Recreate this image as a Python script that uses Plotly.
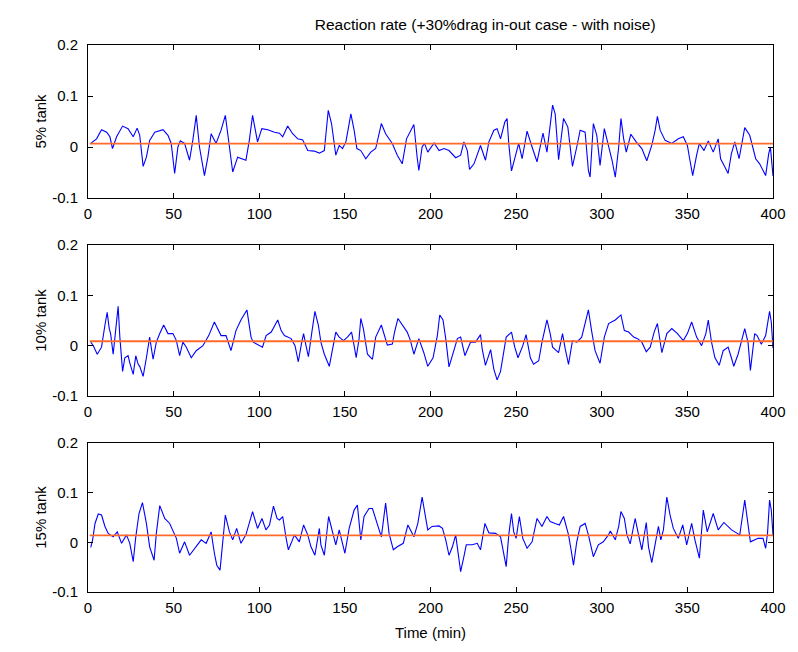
import plotly.graph_objects as go
from plotly.subplots import make_subplots

title_text = "Reaction rate (+30%drag in-out case - with noise)"
panel_labels = ["5% tank", "10% tank", "15% tank"]
x_ticks = [0, 50, 100, 150, 200, 250, 300, 350, 400]
y_ticks = [-0.1, 0, 0.1, 0.2]

# 5% tank
t5 = [1.6, 5.0, 7.9, 10.9, 12.8, 14.3, 16.7, 20.2, 23.4, 26.4, 28.7, 30.2, 32.2, 34.1, 36.0, 39.0,
      43.8, 46.7, 48.6, 50.6, 52.5, 53.9, 56.4, 59.3, 61.2, 63.2, 65.1, 68.0, 70.0, 71.9, 74.8, 77.7,
      80.2, 82.6, 84.5, 87.4, 92.2, 94.2, 96.1, 99.0, 101.5, 105.0, 108.9, 111.8, 113.7, 116.6, 119.5,
      122.5, 125.4, 128.3, 132.1, 135.1, 138.0, 140.3, 142.2, 144.7, 146.7, 148.6, 150.6, 153.5, 155.4,
      157.0, 159.3, 162.2, 165.1, 168.0, 171.3, 173.8, 177.7, 180.6, 183.5, 186.0, 190.3, 192.2, 193.2,
      195.1, 196.5, 198.4, 202.1, 205.0, 207.9, 210.8, 214.7, 217.6, 219.5, 221.5, 222.8, 225.4, 229.2,
      232.1, 234.1, 237.0, 238.9, 240.9, 243.4, 244.7, 245.7, 247.3, 249.6, 251.5, 253.5, 256.4, 259.3,
      262.2, 265.7, 268.0, 271.3, 272.8, 274.8, 277.7, 280.2, 282.9, 285.4, 287.4, 290.3, 292.2, 293.2,
      295.1, 297.1, 299.0, 301.5, 304.0, 306.0, 307.9, 309.9, 311.2, 312.8, 314.3, 317.0, 320.1, 323.4,
      326.3, 329.2, 331.2, 332.5, 334.1, 337.0, 340.9, 344.7, 347.6, 350.0, 351.5, 353.1, 355.4, 357.0,
      358.3, 359.7, 362.2, 365.1, 368.0, 369.4, 371.9, 373.8, 375.7, 377.7, 380.2, 383.5, 386.4, 389.9,
      392.2, 395.7, 397.5, 398.5, 400.0]
v5 = [0.007, 0.016, 0.034, 0.029, 0.020, -0.003, 0.020, 0.041, 0.036, 0.020, 0.037, 0.023, -0.038, -0.020,
      0.013, 0.029, 0.034, 0.023, 0.007, -0.052, 0.000, 0.012, 0.007, -0.026, 0.013, 0.062, 0.000, -0.056,
      -0.020, 0.026, 0.007, 0.033, 0.062, 0.000, -0.049, -0.020, -0.026, 0.013, 0.062, 0.010, 0.036, 0.034,
      0.029, 0.027, 0.020, 0.041, 0.026, 0.016, 0.014, -0.007, -0.008, -0.012, -0.007, 0.072, 0.046, -0.016,
      0.003, -0.003, 0.010, 0.065, 0.033, -0.003, -0.007, -0.023, -0.010, -0.003, 0.046, 0.026, 0.007,
      -0.016, -0.033, 0.016, 0.044, -0.020, -0.046, 0.000, 0.007, -0.010, 0.008, -0.007, -0.003, -0.007,
      -0.021, -0.016, 0.010, -0.007, -0.044, -0.033, 0.003, -0.026, 0.010, 0.033, 0.036, 0.016, 0.049,
      0.056, 0.007, -0.047, -0.016, 0.007, -0.023, 0.031, 0.000, -0.029, 0.027, -0.010, 0.082, 0.065,
      -0.025, 0.056, 0.039, -0.038, 0.000, 0.033, 0.029, -0.046, -0.059, 0.046, 0.023, -0.036, 0.036,
      0.003, -0.026, -0.059, 0.000, 0.056, 0.016, -0.010, 0.025, 0.010, -0.003, -0.027, 0.003, 0.033,
      0.060, 0.033, 0.013, 0.007, 0.016, 0.020, 0.003, -0.026, -0.056, -0.016, 0.007, 0.000, -0.007,
      0.012, -0.010, 0.016, -0.023, -0.039, -0.052, -0.013, 0.010, -0.023, 0.038, 0.023, -0.023, -0.033,
      -0.056, -0.013, 0.000, -0.057]

# 10% tank
t10 = [1.6, 3.1, 5.4, 7.9, 9.9, 11.2, 12.4, 13.2, 14.7, 16.3, 17.6, 18.6, 20.2, 21.5, 23.4, 24.4, 26.4,
       27.9, 29.3, 30.2, 32.2, 34.1, 36.0, 38.0, 39.9, 41.9, 44.2, 46.7, 49.6, 51.6, 53.5, 55.4, 57.4,
       60.3, 63.2, 67.1, 70.5, 73.8, 75.8, 77.7, 80.6, 83.5, 86.4, 89.3, 92.8, 95.2, 96.5, 99.0, 101.9,
       104.0, 107.0, 110.8, 112.8, 114.7, 118.6, 120.9, 122.8, 124.8, 125.9, 127.3, 128.7, 130.6, 132.5,
       134.5, 136.0, 138.0, 140.9, 142.8, 144.7, 146.7, 149.2, 151.5, 153.9, 155.4, 156.6, 158.3, 159.3,
       160.8, 163.2, 166.1, 168.0, 171.3, 173.8, 174.8, 177.7, 179.0, 181.0, 183.5, 186.4, 188.3, 190.3,
       193.2, 196.1, 198.4, 201.5, 204.0, 205.4, 207.3, 208.9, 210.8, 212.8, 214.3, 215.7, 217.6, 220.1,
       223.4, 226.3, 229.2, 230.2, 232.1, 235.1, 237.0, 238.9, 240.9, 244.2, 247.3, 249.2, 251.1, 253.9,
       255.8, 258.3, 260.2, 263.2, 265.1, 268.0, 269.9, 271.3, 274.8, 277.1, 278.7, 280.6, 282.9, 285.4,
       288.3, 290.7, 292.2, 294.2, 296.1, 299.0, 301.5, 304.0, 307.9, 311.2, 313.2, 315.7, 318.6, 320.9,
       323.4, 326.0, 328.3, 330.6, 332.5, 335.1, 338.0, 340.9, 344.2, 347.6, 350.0, 352.5, 355.4, 358.3,
       360.8, 362.2, 364.1, 366.1, 368.6, 370.9, 373.8, 375.7, 377.1, 379.6, 383.5, 385.4, 386.8, 389.3,
       390.7, 393.2, 395.7, 398.0, 399.0, 400.0]
v10 = [0.007, 0.000, -0.017, -0.003, 0.041, 0.066, 0.034, 0.024, -0.017, 0.041, 0.078, 0.017, -0.051,
       -0.024, -0.020, -0.034, -0.057, -0.020, -0.037, -0.041, -0.061, -0.024, 0.017, -0.027, 0.007, 0.024,
       0.041, 0.024, 0.024, 0.010, -0.020, 0.007, -0.003, -0.024, -0.010, 0.000, 0.020, 0.047, 0.034, 0.020,
       0.020, -0.010, 0.030, 0.051, 0.071, 0.017, 0.007, 0.003, -0.003, 0.020, 0.027, 0.051, 0.030, 0.020,
       0.014, 0.000, -0.032, 0.007, 0.024, 0.000, -0.022, 0.024, 0.068, 0.041, 0.007, -0.017, -0.041,
       -0.007, 0.027, 0.017, 0.010, 0.017, 0.027, 0.000, -0.024, 0.014, 0.054, 0.034, -0.017, -0.027,
       0.017, 0.041, 0.010, 0.001, 0.003, 0.027, 0.054, 0.041, 0.027, 0.010, -0.017, 0.014, -0.014, -0.041,
       -0.024, 0.020, 0.061, 0.051, 0.014, -0.042, -0.020, 0.000, 0.014, 0.017, -0.020, 0.007, 0.007,
       0.022, -0.007, -0.039, -0.008, -0.047, -0.068, -0.051, 0.017, 0.027, -0.003, -0.024, 0.000, 0.022,
       -0.024, -0.037, -0.030, 0.007, 0.051, 0.024, -0.003, -0.014, 0.024, -0.007, -0.037, 0.010, 0.007,
       0.017, 0.051, 0.071, 0.027, -0.010, -0.035, 0.017, 0.044, 0.051, 0.061, 0.030, 0.027, 0.017, 0.014,
       0.007, -0.012, -0.003, 0.027, 0.044, -0.014, 0.024, 0.034, 0.024, 0.010, 0.024, 0.047, 0.017, 0.000,
       0.024, 0.051, 0.007, -0.024, -0.039, -0.010, -0.003, -0.024, -0.041, -0.017, 0.034, 0.007, -0.049,
       0.024, 0.020, 0.003, 0.020, 0.068, 0.047, -0.005]

# 15% tank
t15 = [1.6, 2.7, 4.1, 6.0, 7.9, 9.9, 11.8, 14.7, 17.1, 19.6, 22.5, 24.4, 26.4, 27.9, 29.8, 31.8, 34.1,
       36.0, 38.6, 39.9, 41.9, 44.8, 47.7, 50.0, 51.6, 53.5, 56.4, 59.3, 63.2, 66.1, 69.0, 71.9, 73.8,
       75.2, 77.1, 78.7, 80.2, 82.6, 84.5, 86.8, 89.3, 92.2, 96.1, 99.0, 101.6, 103.9, 106.0, 108.3, 110.4,
       111.8, 113.7, 115.7, 117.0, 118.6, 120.5, 123.4, 125.9, 128.3, 130.2, 132.5, 135.1, 136.0, 138.0,
       140.5, 142.8, 144.7, 146.7, 150.0, 152.5, 155.4, 157.3, 159.3, 161.2, 164.1, 166.1, 169.0, 171.3,
       173.8, 175.8, 178.3, 180.6, 184.1, 186.8, 190.3, 192.6, 195.1, 197.1, 198.4, 200.9, 205.0, 207.0,
       208.9, 210.8, 212.8, 214.7, 216.3, 217.6, 219.5, 220.9, 224.4, 227.3, 229.2, 231.8, 234.1, 238.0,
       240.9, 242.8, 244.2, 245.7, 247.3, 248.6, 250.0, 251.9, 253.9, 256.4, 259.3, 262.2, 265.1, 268.0,
       269.9, 272.8, 275.2, 277.7, 280.6, 282.1, 283.5, 285.4, 287.4, 290.3, 292.2, 295.1, 298.0, 300.9,
       303.9, 305.0, 307.9, 309.9, 311.2, 313.2, 314.7, 316.6, 319.5, 321.5, 323.4, 326.0, 327.3, 329.2,
       331.2, 333.1, 334.5, 336.0, 338.0, 339.9, 341.8, 344.7, 347.3, 349.6, 352.5, 354.4, 357.0, 359.3,
       361.6, 365.1, 368.0, 371.3, 375.8, 380.6, 383.5, 385.4, 386.8, 391.3, 394.2, 395.7, 396.8, 398.0,
       399.0, 400.0]
v15 = [-0.010, 0.005, 0.038, 0.057, 0.055, 0.032, 0.018, 0.011, 0.021, -0.002, 0.015, -0.002, -0.039,
       0.011, 0.058, 0.080, 0.038, -0.009, -0.036, 0.018, 0.074, 0.048, 0.038, 0.021, 0.008, -0.022, 0.001,
       -0.026, -0.009, 0.005, -0.002, 0.021, -0.022, -0.046, -0.056, 0.005, 0.055, 0.021, 0.005, 0.028,
       -0.002, 0.015, 0.062, 0.028, 0.048, 0.025, 0.035, 0.073, 0.048, 0.045, 0.052, 0.008, -0.015, -0.002,
       0.015, 0.001, 0.035, 0.015, -0.009, -0.026, 0.028, -0.005, -0.026, 0.052, 0.018, -0.005, 0.025,
       -0.022, 0.028, 0.065, 0.075, 0.005, 0.052, 0.068, 0.068, 0.038, 0.011, 0.079, 0.018, -0.015, -0.009,
       -0.002, 0.035, 0.011, 0.038, 0.091, 0.052, 0.025, 0.032, 0.033, 0.028, 0.005, -0.026, -0.009, 0.015,
       -0.029, -0.059, -0.029, -0.005, -0.005, -0.002, -0.015, 0.038, 0.019, 0.018, 0.011, -0.022, -0.049,
       0.015, 0.058, 0.021, 0.008, 0.052, 0.008, -0.012, 0.001, 0.048, 0.032, 0.052, 0.042, 0.038, 0.035,
       0.052, 0.015, -0.015, -0.046, 0.001, 0.032, 0.038, 0.015, -0.029, -0.005, 0.001, 0.015, 0.023,
       0.005, 0.032, 0.062, 0.048, 0.015, -0.003, 0.048, 0.015, -0.015, 0.040, -0.009, -0.041, -0.002,
       0.032, 0.005, 0.025, 0.091, 0.055, 0.028, 0.008, 0.035, -0.005, 0.038, 0.005, -0.032, 0.065, 0.021,
       0.058, 0.025, 0.040, 0.025, 0.015, 0.085, 0.038, 0.001, 0.008, 0.008, -0.012, 0.018, 0.085, 0.065,
       0.015]

mean_x = [1, 400]
mean_levels = [0.0065, 0.0088, 0.014]

series_t = [t5, t10, t15]
series_v = [v5, v10, v15]

fig = make_subplots(rows=3, cols=1, shared_xaxes=False, vertical_spacing=0.08)

for i in range(3):
    fig.add_trace(go.Scatter(x=series_t[i], y=series_v[i], mode="lines",
                             line=dict(color="#0000ff", width=1.1), showlegend=False),
                  row=i + 1, col=1)
    fig.add_trace(go.Scatter(x=mean_x, y=[mean_levels[i]] * 2, mode="lines",
                             line=dict(color="#ff6a2a", width=1.8), showlegend=False),
                  row=i + 1, col=1)

font_family = "Liberation Sans, Arial, sans-serif"
fs = 15
domains = [[0.7203, 1.0], [0.3583, 0.6344], [0.0, 0.2724]]
for i in range(3):
    xa = "xaxis" if i == 0 else f"xaxis{i + 1}"
    ya = "yaxis" if i == 0 else f"yaxis{i + 1}"
    fig.layout[xa].update(range=[0, 400], tickvals=x_ticks, ticks="inside", ticklen=5,
                          showline=True, linecolor="black", linewidth=1, mirror="allticks",
                          showgrid=False, zeroline=False, tickfont=dict(size=fs, color="black"),
                          tickcolor="black", ticklabelstandoff=2)
    fig.layout[ya].update(range=[-0.1, 0.2], tickvals=y_ticks,
                          ticktext=["-0.1", "0", "0.1", "0.2"], domain=domains[i],
                          ticks="inside", ticklen=5, showline=True, linecolor="black",
                          linewidth=1, mirror="allticks", showgrid=False, zeroline=False,
                          tickfont=dict(size=fs, color="black"), tickcolor="black",
                          ticklabelstandoff=6,
                          title=dict(text=panel_labels[i], font=dict(size=fs, color="black"),
                                     standoff=1))

fig.layout["xaxis3"].update(title=dict(text="Time (min)", font=dict(size=fs, color="black"),
                                       standoff=12))

fig.update_layout(
    width=798, height=652,
    margin=dict(l=88, r=20, t=45, b=60),
    paper_bgcolor="white", plot_bgcolor="white",
    font=dict(family=font_family, size=fs, color="black"),
    title=dict(text=title_text, x=0.608, xanchor="center", y=0.963, yanchor="middle",
               font=dict(size=15.5, color="black")),
)

fig.write_html("out.html")
